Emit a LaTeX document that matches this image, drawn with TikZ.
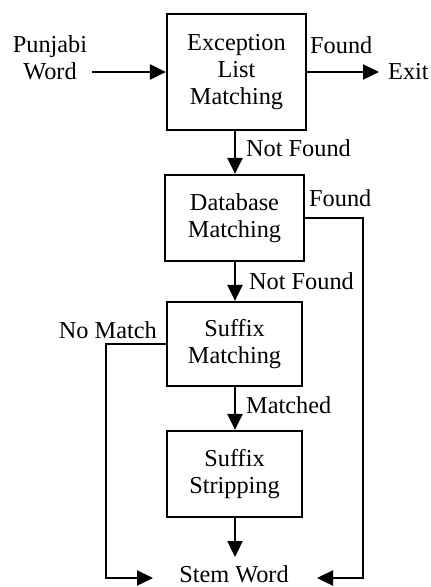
\documentclass[tikz,border=0pt]{standalone}
\usepackage{fontspec}
\setmainfont{Liberation Serif}
\usetikzlibrary{arrows.meta}
\begin{document}
\begin{tikzpicture}[x=1pt,y=1pt,
  every node/.style={font=\fontsize{24.3}{27}\selectfont, inner sep=0pt},
  procbox/.style={draw, line width=2.2pt, align=center},
  lbl/.style={anchor=west},
  flow/.style={line width=2.4pt, -{Triangle[length=16pt,width=15pt]}},
  plain/.style={line width=2.4pt}]
\useasboundingbox (0,0) rectangle (431,-587);
\node[procbox, minimum width=139, minimum height=116] (e1) at (236.5,-72) {Exception\\List\\Matching};
\node[procbox, minimum width=139, minimum height=86] (db) at (234.5,-218) {Database\\Matching};
\node[procbox, minimum width=135, minimum height=84] (sm) at (234.5,-344) {Suffix\\Matching};
\node[procbox, minimum width=135, minimum height=86] (ss) at (234.5,-474) {Suffix\\Stripping};
\node[align=center] (pw) at (50,-58) {Punjabi\\Word};
\node[anchor=west] (exit) at (388,-72) {Exit};
\node[anchor=base] (stem) at (234,-582) {Stem Word};
\coordinate (pwout) at (92,-72);
\coordinate (sstip) at (234.5,-557);
\coordinate (ltip) at (153,-578);
\coordinate (rtip) at (317,-578);
\coordinate (rcorner) at (363,-218);
\coordinate (lcorner) at (106,-344);
\coordinate (v1) at (235,0);
\draw[flow] (pwout) -- (e1.west |- pwout);
\draw[flow, shorten >=9pt] (e1.east) -- (exit.west);
\node[lbl] (lf1) at (310,-45) {Found};
\draw[flow] (v1 |- e1.south) -- (v1 |- db.north);
\node[lbl] (lnf1) at (246,-148) {Not Found};
\draw[flow] (v1 |- db.south) -- (v1 |- sm.north);
\node[lbl] (lnf2) at (249,-281) {Not Found};
\draw[flow] (v1 |- sm.south) -- (v1 |- ss.north);
\node[lbl] (lm) at (246,-405) {Matched};
\draw[flow] (v1 |- ss.south) -- (v1 |- sstip);
\node[lbl] (lf2) at (309,-198) {Found};
\node[anchor=east] (lnm) at (157,-330) {No Match};
\draw[flow] (db.east |- rcorner) -- (rcorner) |- (rtip);
\draw[flow] (sm.west |- lcorner) -- (lcorner) |- (ltip);
\end{tikzpicture}
\end{document}
